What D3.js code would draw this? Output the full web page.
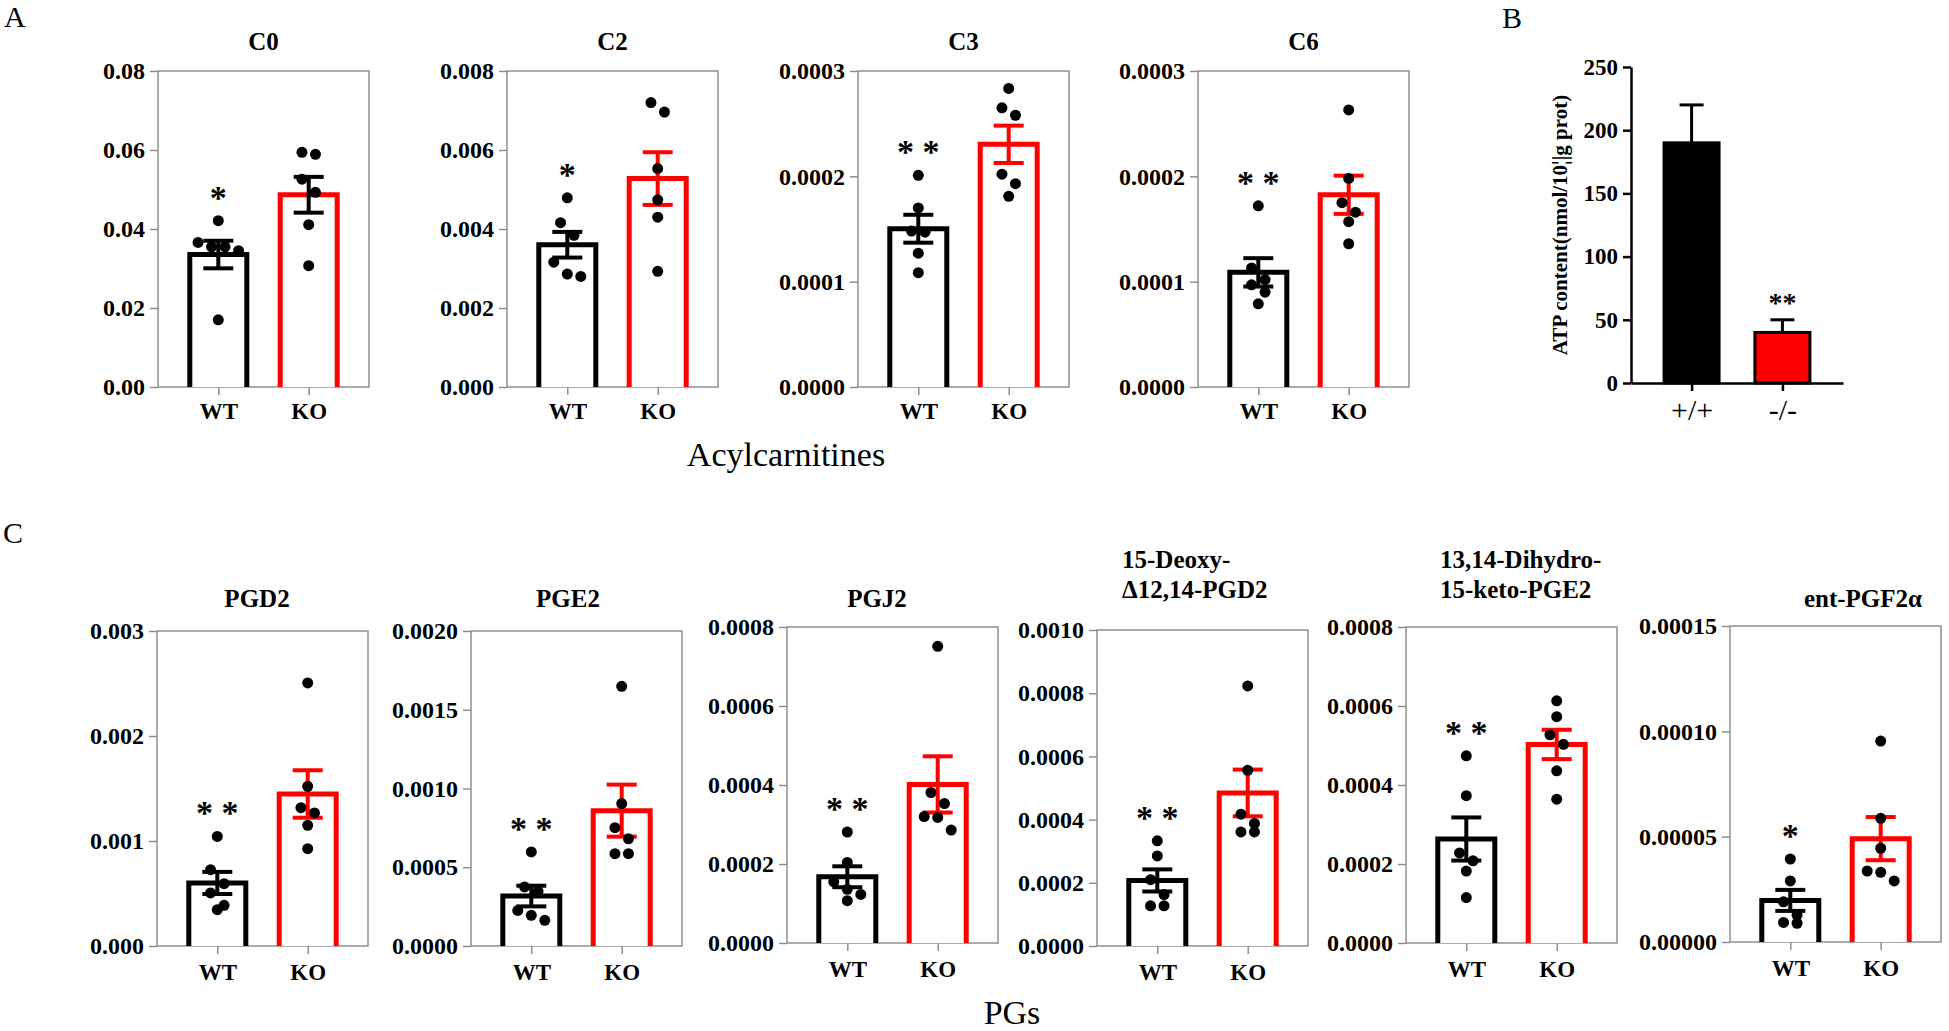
<!DOCTYPE html>
<html>
<head>
<meta charset="utf-8">
<script src="https://cdn.jsdelivr.net/npm/d3@7/dist/d3.min.js"></script>
<style>
  body { margin: 0; background: #fff; }
  svg { font-family: "Liberation Serif", "Times New Roman", serif; }
</style>
</head>
<body>
<svg id="fig" width="1949" height="1031"></svg>
<script>
// ---- values ----
var groups = ["WT", "KO"];

// A: acylcarnitines, individual animals
var acylNames = ["C0", "C2", "C3", "C6"];
var acylWT = [
  [0.0421, 0.0366, 0.0355, 0.0355, 0.0345, 0.0170],
  [0.00479, 0.00416, 0.00384, 0.00316, 0.00286, 0.00280],
  [0.000201, 0.000170, 0.000148, 0.000147, 0.000127, 0.0001085],
  [0.000172, 0.000113, 0.000102, 0.000097, 0.000090, 0.000079]
];
var acylKO = [
  [0.0594, 0.0589, 0.0526, 0.0493, 0.0411, 0.0307],
  [0.00720, 0.00696, 0.00553, 0.00474, 0.00430, 0.00293],
  [0.0002835, 0.000265, 0.000258, 0.000202, 0.000193, 0.000181],
  [0.000263, 0.000198, 0.000175, 0.000166, 0.000157, 0.000136]
];
var acylMax = [0.08, 0.008, 0.0003, 0.0003];
var acylTicks = [
  [0, 0.02, 0.04, 0.06, 0.08],
  [0, 0.002, 0.004, 0.006, 0.008],
  [0, 0.0001, 0.0002, 0.0003],
  [0, 0.0001, 0.0002, 0.0003]
];
var acylDecimals = [2, 3, 4, 4];
var acylSig = ["*", "*", "* *", "* *"];

// C: prostaglandins
var pgNames = [["PGD2"], ["PGE2"], ["PGJ2"], ["15-Deoxy-", "\u039412,14-PGD2"],
               ["13,14-Dihydro-", "15-keto-PGE2"], ["ent-PGF2\u03b1"]];
var pgWT = [
  [0.001044, 0.000727, 0.000594, 0.000505, 0.000387, 0.000346],
  [0.000597, 0.000375, 0.000347, 0.000226, 0.000195, 0.000163],
  [0.000281, 0.000204, 0.000155, 0.000136, 0.000123, 0.000107],
  [0.000333, 0.000285, 0.000210, 0.000163, 0.000127, 0.000127],
  [0.000474, 0.000373, 0.000228, 0.000208, 0.000182, 0.000115],
  [0.0000394, 0.0000290, 0.0000191, 0.0000128, 0.0000093, 0.0000089]
];
var pgKO = [
  [0.002505, 0.001521, 0.001317, 0.001267, 0.001149, 0.000927],
  [0.001649, 0.000904, 0.000751, 0.000681, 0.000586, 0.000586],
  [0.000751, 0.000381, 0.000353, 0.000320, 0.000318, 0.000286],
  [0.000823, 0.000556, 0.000417, 0.000388, 0.000361, 0.000361],
  [0.000613, 0.000573, 0.000527, 0.000503, 0.000436, 0.000364],
  [0.0000954, 0.0000587, 0.0000445, 0.0000337, 0.0000331, 0.0000290]
];
var pgMax = [0.003, 0.002, 0.0008, 0.001, 0.0008, 0.00015];
var pgTicks = [
  [0, 0.001, 0.002, 0.003],
  [0, 0.0005, 0.001, 0.0015, 0.002],
  [0, 0.0002, 0.0004, 0.0006, 0.0008],
  [0, 0.0002, 0.0004, 0.0006, 0.0008, 0.001],
  [0, 0.0002, 0.0004, 0.0006, 0.0008],
  [0, 0.00005, 0.0001, 0.00015]
];
var pgDecimals = [3, 4, 4, 4, 4, 5];
var pgSig = ["* *", "* *", "* *", "* *", "* *", "*"];

// B: ATP content
var atpGroups = ["+/+", "-/-"];
var atpMean = [190, 40];
var atpSem = [30, 10];
var atpTicks = [0, 50, 100, 150, 200, 250];
var atpSig = ["", "**"];

// ---- layout ----
var RED = "#ff0000", GRID = "#888888";
var panelW = 211;
var acylLeft = [158, 507, 858, 1198], acylTop = 71, acylBottom = 387;
var acylKOErr = ["#000", RED, RED, RED];
var pgLeft = [157, 471, 787, 1097, 1406, 1730];
var pgTop = [631, 631, 627, 630, 627, 626];
var pgBottom = [946, 946, 943, 946, 943, 942];
var pgTitleX = [257, 568, 877, 1122, 1440, 1863];

var svg = d3.select("#fig");

// GraphPad-like scatter: rows of near-equal values spread symmetrically
function swarm(vals, y, cx) {
  var pts = vals.map(function(v) { return {v: v, y: y(v)}; })
    .sort(function(a, b) { return a.y - b.y; });
  var rows = [], cur = null;
  pts.forEach(function(p) {
    if (!cur || p.y - cur[0].y >= 15) { cur = [p]; rows.push(cur); }
    else cur.push(p);
  });
  rows.forEach(function(r) {
    r.sort(function(a, b) { return b.v - a.v; });
    r.forEach(function(p, i) { p.x = cx + (i - (r.length - 1) / 2) * 13.5; });
  });
  return pts;
}

function drawPanel(o) {
  var g = svg.append("g");
  var y = d3.scaleLinear().domain([0, o.max]).range([o.bottom, o.top]);
  var x = d3.scalePoint().domain(groups).range([o.left, o.left + panelW]).padding(0.667);

  g.append("rect")
    .attr("x", o.left).attr("y", o.top)
    .attr("width", panelW).attr("height", o.bottom - o.top)
    .attr("fill", "none").attr("stroke", GRID).attr("stroke-width", 1.4);

  var ya = g.append("g")
    .attr("transform", "translate(" + o.left + ",0)")
    .call(d3.axisLeft(y).tickValues(o.ticks).tickSize(8).tickPadding(5)
      .tickFormat(d3.format("." + o.dec + "f")));
  ya.select(".domain").remove();
  ya.selectAll("line").attr("stroke", GRID).attr("stroke-width", 1.4);
  ya.selectAll("text").attr("font-size", 24).attr("font-weight", "bold")
    .attr("font-family", "Liberation Serif").attr("fill", "#000");

  var xa = g.append("g")
    .attr("transform", "translate(0," + o.bottom + ")")
    .call(d3.axisBottom(x).tickSize(8).tickPadding(o.labPad));
  xa.select(".domain").remove();
  xa.selectAll("line").attr("stroke", GRID).attr("stroke-width", 1.4);
  xa.selectAll("text").attr("font-size", 23).attr("font-weight", "bold")
    .attr("font-family", "Liberation Serif").attr("fill", "#000");

  var sets = [
    {key: "WT", vals: o.wt, col: "#000", err: "#000"},
    {key: "KO", vals: o.ko, col: RED, err: o.koErr}
  ];
  sets.forEach(function(s) {
    var cx = x(s.key);
    var m = d3.mean(s.vals);
    var se = d3.deviation(s.vals) / Math.sqrt(s.vals.length);
    var hw = 28.5;
    g.append("path")
      .attr("d", "M" + (cx - hw) + "," + o.bottom + "V" + y(m) + "H" + (cx + hw) + "V" + o.bottom)
      .attr("fill", "#fff").attr("stroke", s.col).attr("stroke-width", 5);
    var eg = g.append("g").attr("stroke", s.err).attr("stroke-width", 4);
    eg.append("line").attr("x1", cx).attr("x2", cx).attr("y1", y(m - se)).attr("y2", y(m + se));
    [m - se, m + se].forEach(function(v) {
      eg.append("line").attr("x1", cx - 15).attr("x2", cx + 15).attr("y1", y(v)).attr("y2", y(v));
    });
    g.selectAll(null).data(swarm(s.vals, y, cx)).enter().append("circle")
      .attr("cx", function(d) { return d.x; })
      .attr("cy", function(d) { return d.y; })
      .attr("r", 5.5).attr("fill", "#000");
  });

  // significance stars sit about 29px above the highest WT point
  g.append("text")
    .attr("x", x("WT")).attr("y", y(d3.max(o.wt)) - 12)
    .attr("text-anchor", "middle").attr("font-size", 34).attr("font-weight", "bold")
    .text(o.sig);

  var t = g.append("text").attr("font-size", 25).attr("font-weight", "bold")
    .attr("text-anchor", o.title.length > 1 ? "start" : "middle");
  o.title.forEach(function(line, i) {
    t.append("tspan").attr("x", o.titleX)
      .attr("y", o.titleY - (o.title.length - 1 - i) * 30).text(line);
  });
}

acylNames.forEach(function(n, i) {
  drawPanel({
    left: acylLeft[i], top: acylTop, bottom: acylBottom, max: acylMax[i],
    ticks: acylTicks[i], dec: acylDecimals[i], wt: acylWT[i], ko: acylKO[i],
    sig: acylSig[i], koErr: acylKOErr[i], title: [n],
    titleX: acylLeft[i] + panelW / 2, titleY: 50, labPad: 8
  });
});

pgNames.forEach(function(n, i) {
  drawPanel({
    left: pgLeft[i], top: pgTop[i], bottom: pgBottom[i], max: pgMax[i],
    ticks: pgTicks[i], dec: pgDecimals[i], wt: pgWT[i], ko: pgKO[i],
    sig: pgSig[i], koErr: RED, title: n,
    titleX: pgTitleX[i], titleY: n.length > 1 ? 598 : 607, labPad: 10
  });
});

// ---- panel B ----
(function() {
  var left = 1631, top = 67, bottom = 383, w = 212;
  var y = d3.scaleLinear().domain([0, 250]).range([bottom, top]);
  var x = d3.scalePoint().domain(atpGroups).range([left, left + w]).padding(0.667);
  var g = svg.append("g");

  atpGroups.forEach(function(k, i) {
    var cx = x(k);
    g.append("line").attr("x1", cx).attr("x2", cx)
      .attr("y1", y(atpMean[i])).attr("y2", y(atpMean[i] + atpSem[i]))
      .attr("stroke", "#000").attr("stroke-width", 3);
    g.append("line").attr("x1", cx - 12).attr("x2", cx + 12)
      .attr("y1", y(atpMean[i] + atpSem[i])).attr("y2", y(atpMean[i] + atpSem[i]))
      .attr("stroke", "#000").attr("stroke-width", 3);
    g.append("rect")
      .attr("x", cx - 27.5).attr("width", 55)
      .attr("y", y(atpMean[i])).attr("height", bottom - y(atpMean[i]))
      .attr("fill", i === 0 ? "#000" : RED)
      .attr("stroke", "#000").attr("stroke-width", 3);
    g.append("text").attr("x", cx).attr("y", y(atpMean[i] + atpSem[i]) - 8)
      .attr("text-anchor", "middle").attr("font-size", 28).attr("font-weight", "bold")
      .text(atpSig[i]);
  });

  var ya = g.append("g").attr("transform", "translate(" + left + ",0)")
    .call(d3.axisLeft(y).tickValues(atpTicks).tickSize(8).tickSizeOuter(0).tickPadding(5));
  ya.selectAll("path,line").attr("stroke", "#000").attr("stroke-width", 2.5);
  ya.selectAll("text").attr("font-size", 23).attr("font-weight", "bold")
    .attr("font-family", "Liberation Serif").attr("fill", "#000");

  var xa = g.append("g").attr("transform", "translate(0," + bottom + ")")
    .call(d3.axisBottom(x).tickSize(8).tickSizeOuter(0).tickPadding(8));
  xa.selectAll("path,line").attr("stroke", "#000").attr("stroke-width", 2.5);
  xa.selectAll("text").attr("font-size", 30)
    .attr("font-family", "Liberation Serif").attr("fill", "#000");

  g.append("text")
    .attr("transform", "translate(1560,225) rotate(-90)")
    .attr("text-anchor", "middle").attr("dominant-baseline", "central")
    .attr("font-size", 21).attr("font-weight", "bold")
    .text("ATP content(nmol/10\u00a6|g prot)");
})();

// ---- panel letters and group captions ----
svg.append("text").attr("x", 4).attr("y", 27).attr("font-size", 30).text("A");
svg.append("text").attr("x", 1502).attr("y", 28).attr("font-size", 30).text("B");
svg.append("text").attr("x", 3).attr("y", 543).attr("font-size", 30).text("C");
svg.append("text").attr("x", 786).attr("y", 466).attr("text-anchor", "middle")
  .attr("font-size", 34).text("Acylcarnitines");
svg.append("text").attr("x", 1012).attr("y", 1024).attr("text-anchor", "middle")
  .attr("font-size", 34).text("PGs");
</script>
</body>
</html>
